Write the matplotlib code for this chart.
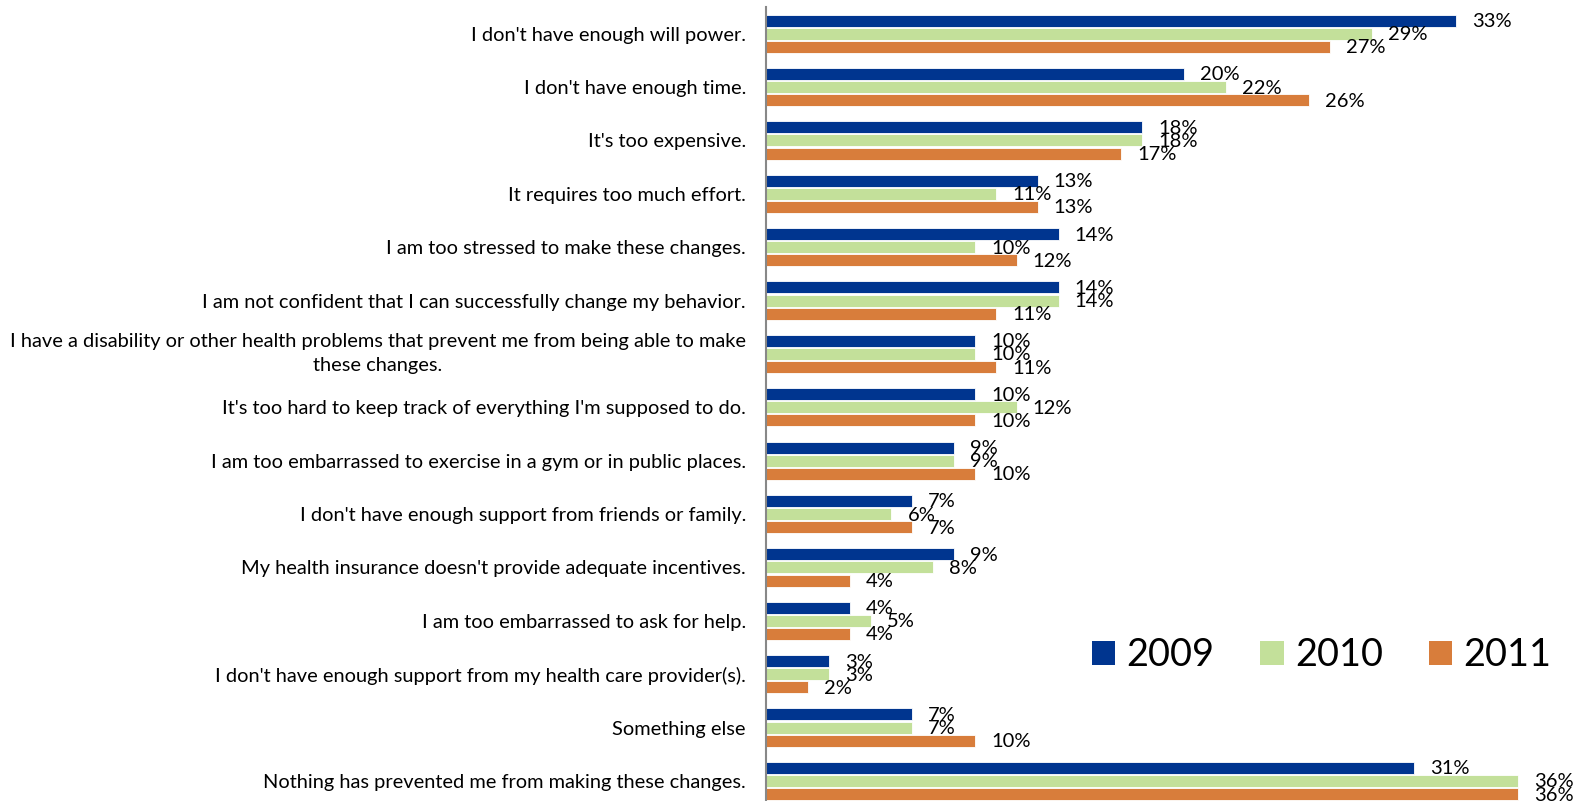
import matplotlib.pyplot as plt
import numpy as np
from matplotlib.patches import Patch

plt.rcParams['font.family'] = ['Lato', 'DejaVu Sans']

categories = [
    "I don't have enough will power.",
    "I don't have enough time.",
    "It's too expensive.",
    "It requires too much effort.",
    "I am too stressed to make these changes.",
    "I am not confident that I can successfully change my behavior.",
    "I have a disability or other health problems that prevent me from being able to make\nthese changes.",
    "It's too hard to keep track of everything I'm supposed to do.",
    "I am too embarrassed to exercise in a gym or in public places.",
    "I don't have enough support from friends or family.",
    "My health insurance doesn't provide adequate incentives.",
    "I am too embarrassed to ask for help.",
    "I don't have enough support from my health care provider(s).",
    "Something else",
    "Nothing has prevented me from making these changes.",
]
years = ["2009", "2010", "2011"]
v2009 = [33, 20, 18, 13, 14, 14, 10, 10, 9, 7, 9, 4, 3, 7, 31]
v2010 = [29, 22, 18, 11, 10, 14, 10, 12, 9, 6, 8, 5, 3, 7, 36]
v2011 = [27, 26, 17, 13, 12, 11, 11, 10, 10, 7, 4, 4, 2, 10, 36]
colors = ["#00358F", "#C3E09A", "#D87D3B"]

fig = plt.figure(figsize=(15.78, 8.01), dpi=100)
# axes placed in pixels: left edge at 766px, 20.9px per percent
ax = fig.add_axes([766 / 1578, -6.6 / 801, 38 * 20.9 / 1578, 800.6 / 801])

y = np.arange(len(categories))
pitch = 0.246
h = 0.225
for k, vals in enumerate([v2009, v2010, v2011]):
    pos = y + (k - 1) * pitch
    ax.barh(pos, vals, height=h, color=colors[k], edgecolor="white", linewidth=0.6)
    for p, v in zip(pos, vals):
        ax.annotate(f"{v}%", (v, p), xytext=(16, -1), textcoords="offset pixels",
                    ha="left", va="center", fontsize=14.5)

ax.set_xlim(0, 38)
ax.set_ylim(14.5, -0.5)
ax.set_yticks(y)
ax.set_yticklabels(categories, fontsize=14.4)
for lbl in ax.get_yticklabels():
    if "\n" in lbl.get_text():
        lbl.set_multialignment("center")
        lbl.set_linespacing(1.5)
        lbl.set_va("center")
ax.tick_params(axis="y", length=0, pad=14.4)
ax.set_xticks([])
for s in ["top", "right", "bottom"]:
    ax.spines[s].set_visible(False)
ax.spines["left"].set_color("#888888")
ax.spines["left"].set_linewidth(1.5)

handles = [Patch(facecolor=c, edgecolor="none") for c in colors]
fig.legend(handles, years, loc="center", bbox_to_anchor=(0.8375, 0.182), ncol=3,
           frameon=False, fontsize=27.3, handlelength=0.62, handleheight=0.62,
           handletextpad=0.3, columnspacing=1.2)

fig.savefig("out.png", dpi=100)
